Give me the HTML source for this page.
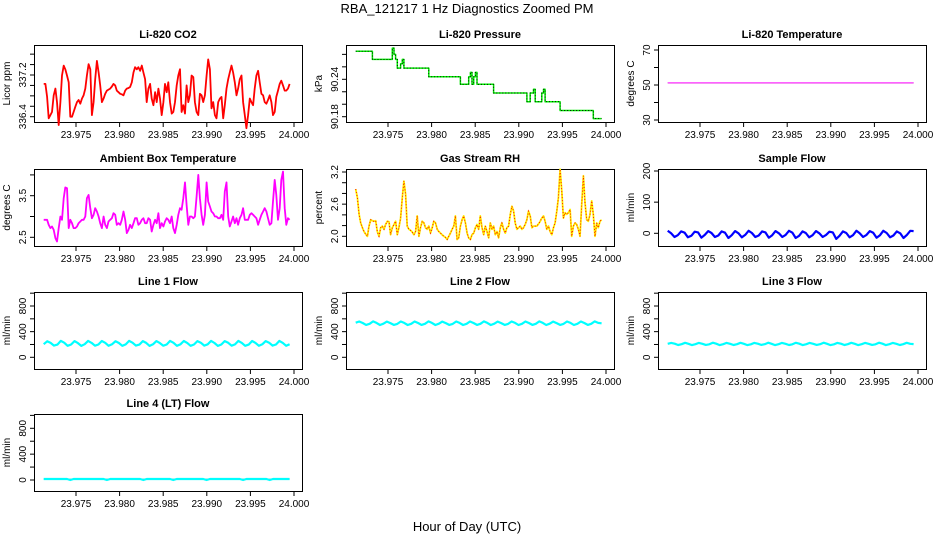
<!DOCTYPE html>
<html><head><meta charset="utf-8">
<style>
html,body{margin:0;padding:0;background:#fff;}
svg{display:block;font-family:"Liberation Sans",Arial,sans-serif;}
</style></head>
<body>
<svg id="chart" width="936" height="540" viewBox="0 0 936 540">
<text x="467" y="13" text-anchor="middle" font-size="13">RBA_121217  1 Hz Diagnostics Zoomed PM</text>
<text x="467" y="531" text-anchor="middle" font-size="13">Hour of Day (UTC)</text>
</svg>
<script>
const tStart = 23.9713, tEnd = 23.9995;
const xTicks = [23.975, 23.980, 23.985, 23.990, 23.995, 24.000];
const xTickLabels = ["23.975","23.980","23.985","23.990","23.995","24.000"];

const co2 = [337.03,337.03,336.78,336.37,336.43,336.49,336.81,336.94,336.68,336.24,336.68,337.19,337.38,337.31,337.19,337.06,336.40,336.40,336.49,336.59,336.68,336.72,336.65,336.75,336.81,336.94,337.19,337.41,337.31,336.43,336.68,337.12,337.47,337.25,337.00,336.68,336.75,336.84,336.90,336.92,336.94,336.98,337.03,337.00,336.90,336.87,336.84,336.83,336.81,336.90,336.94,336.95,336.97,337.06,337.25,337.35,337.31,337.35,337.28,337.38,337.25,337.12,336.68,336.94,337.03,336.75,336.62,336.87,336.68,336.94,336.75,336.43,336.68,337.03,336.87,337.06,336.68,336.46,336.49,336.68,337.00,337.19,337.31,336.49,336.62,336.46,337.00,336.68,336.81,337.19,337.16,336.68,336.49,336.43,336.84,336.81,336.68,336.81,337.19,337.50,337.31,336.56,336.68,336.43,336.37,336.68,336.75,336.78,336.37,336.62,336.94,337.12,337.25,337.38,337.25,337.06,336.81,336.94,337.12,337.19,336.68,336.43,336.18,336.43,336.75,336.68,336.62,336.94,337.19,337.28,337.06,336.84,336.81,336.68,336.65,336.72,336.81,336.68,336.43,336.49,336.78,336.90,337.03,337.09,337.00,336.90,336.90,336.94,337.03];

const pressure = [90.285,90.285,90.285,90.285,90.285,90.285,90.285,90.285,90.285,90.285,
90.272,90.272,90.272,90.272,90.272,90.272,90.272,90.272,90.272,90.272,90.272,90.272,
90.290,90.280,90.272,90.258,90.258,90.265,90.272,90.258,
90.258,90.258,90.258,90.258,90.258,90.258,90.258,90.258,90.258,90.258,90.258,90.258,90.258,90.258,
90.244,90.244,90.244,90.244,90.244,90.244,90.244,90.244,90.244,90.244,90.244,90.244,90.244,90.244,90.244,90.244,90.244,90.244,90.244,
90.232,90.232,90.232,90.232,90.232,90.244,90.251,90.232,90.244,90.251,90.232,
90.232,90.232,90.232,90.232,90.232,90.232,90.232,90.232,90.232,
90.218,90.218,90.218,90.218,90.218,90.218,90.218,90.218,90.218,90.218,90.218,90.218,90.218,90.218,90.218,90.218,90.218,90.218,90.218,90.218,
90.204,90.204,90.218,90.218,90.224,90.204,90.204,90.204,90.204,90.218,90.224,90.204,
90.204,90.204,90.204,90.204,90.204,90.204,90.204,90.204,
90.190,90.190,90.190,90.190,90.190,90.190,90.190,90.190,90.190,90.190,90.190,90.190,90.190,90.190,90.190,90.190,90.190,90.190,90.190,90.190,
90.177,90.177,90.177,90.177,90.177,90.177];

const licorTemp = [51.2,51.2,51.2,51.2,51.2,51.2,51.2,51.2];

const boxTemp = [2.92,2.92,2.92,2.80,2.72,2.76,2.68,2.48,2.40,2.72,3.00,2.92,3.44,3.70,3.68,2.72,2.92,2.84,2.72,2.72,2.76,2.84,2.88,2.92,2.92,3.00,3.44,3.52,3.20,2.96,3.04,3.20,3.12,3.00,2.84,2.72,3.00,2.80,2.72,2.88,2.92,2.96,3.08,3.04,2.80,2.84,2.80,2.92,3.12,2.92,2.60,2.68,2.80,2.72,2.84,2.96,2.96,2.80,2.84,2.92,2.96,2.84,2.84,2.96,2.92,2.64,2.80,2.92,2.84,3.08,2.72,2.84,2.76,2.88,2.96,2.92,2.84,3.00,2.72,2.60,2.80,3.04,3.20,3.16,3.44,3.82,3.28,2.80,3.00,3.00,2.96,3.00,3.48,4.00,3.44,3.04,2.80,3.04,3.82,3.36,3.24,3.12,3.08,3.00,3.00,2.96,2.96,3.04,2.92,3.60,3.82,3.00,2.76,2.88,3.00,2.84,2.96,2.80,2.96,3.04,3.20,2.92,2.92,2.92,3.04,3.08,3.04,3.00,2.96,2.80,2.92,3.04,3.12,3.20,3.12,2.96,2.80,2.84,3.36,3.88,3.52,2.92,3.20,3.88,4.08,3.20,2.80,2.96,2.92];

const gasRH = [2.88,2.72,2.41,2.25,2.16,2.09,2.04,2.00,2.19,2.31,2.29,2.28,2.29,2.09,2.00,2.16,2.19,2.13,2.22,2.28,2.27,2.03,2.16,2.22,2.28,2.03,2.16,2.34,2.72,3.03,2.78,2.19,2.13,2.11,2.08,2.03,2.09,2.38,2.00,2.16,2.28,2.25,2.16,2.13,2.19,2.06,2.16,2.28,2.25,2.13,2.09,2.06,2.03,2.00,1.98,1.94,2.00,2.06,2.13,2.19,2.38,1.94,1.97,2.19,2.31,2.38,2.25,2.06,1.97,1.94,2.03,2.06,2.16,2.22,2.13,2.38,2.16,2.03,2.19,2.09,1.97,2.25,2.13,2.19,2.03,2.09,1.97,2.16,2.25,2.13,2.06,2.16,2.19,2.41,2.56,2.47,2.25,2.13,2.16,2.19,2.13,2.16,2.22,2.31,2.47,2.38,2.16,2.19,2.19,2.19,2.23,2.28,2.34,2.38,2.28,2.13,2.19,2.09,2.03,2.16,2.25,2.47,2.72,3.25,2.84,2.34,2.44,2.41,2.44,2.50,2.00,2.19,2.25,2.22,2.13,2.00,2.59,3.13,2.63,2.31,2.28,2.41,2.66,2.41,2.00,2.25,2.16,2.28,2.31];

const sampleFlow = [8,0,-12,-6,6,2,-13,-8,5,3,-14,-5,7,1,-12,-7,6,2,-15,-6,7,0,-13,-5,8,1,-12,-7,6,3,-14,-6,7,0,-12,-5,8,2,-15,-8,6,1,-13,-6,7,0,-12,-5,5,3,-18,-8,6,1,-13,-6,8,0,-12,-5,7,2,-14,-6,8,1,-13,-7,6,0,-15,-5,8,7];
const line1Flow = [205,250,225,182,198,255,228,180,200,252,222,178,204,256,224,181,199,254,226,179,202,251,223,180,201,255,227,182,198,253,225,178,203,252,222,181,200,256,226,179,201,254,224,180,199,252,227,182,202,255,223,178,200,253,226,181,201,256,224,179,198,254,225,180,203,252,227,182,200,255,224,179,205];
const line2Flow = [540,558,535,505,522,560,536,503,524,557,534,506,521,559,537,504,523,558,535,505,522,560,536,503,524,557,534,506,521,559,537,504,523,558,535,505,522,560,536,503,524,557,534,506,521,559,537,504,523,558,535,505,522,560,536,503,524,557,534,506,521,559,537,504,523,558,535,505,522,560,536,530];
const line3Flow = [210,225,212,192,204,226,210,190,205,224,211,193,203,227,212,191,204,225,210,192,205,226,211,190,203,224,212,193,204,227,210,191,205,225,211,192,203,226,212,190,204,224,210,193,205,227,211,191,203,225,212,192,204,226,210,190,205,224,211,193,203,227,212,191,204,225,210,192,205,226,211,206];
const line4Flow = [15,15,15,15,15,15,15,15,0,15,15,15,15,15,15,15,15,15,15,0,15,15,15,15,15,15,15,15,15,15,0,15,15,15,15,15,15,15,15,0,15,15,15,15,15,15,15,15,15,0,15,15,15,15,15,15,15,15,15,15,0,15,15,15,15,15,15,15,0,15,15,15,15,15,15];

const svg = document.getElementById('chart');
const NS = 'http://www.w3.org/2000/svg';
function mk(tag, attrs){ const e=document.createElementNS(NS,tag); for(const k in attrs) e.setAttribute(k,attrs[k]); svg.appendChild(e); return e; }

const colLeft = [34, 346, 658];
const rowTop = [45, 169, 292, 414];
const boxW = 268, boxH = 77;

function xScale(col, t){ return 76 + 312*col + (t - 23.975) * 8720; }

const panels = [
 {key:'co2', title:'Li-820 CO2', ylab:'Licor ppm', col:0,row:0, ref:[336.4,116.7,337.2,75], ticks:[336.4,336.6,336.8,337.0,337.2,337.4,337.6], labels:[[336.4,'336.4'],[337.2,'337.2']], data:co2, color:'#ff0000', dot:null, w:1.8},
 {key:'pressure', title:'Li-820 Pressure', ylab:'kPa', col:1,row:0, ref:[90.18,116.7,90.24,79.3], ticks:[90.18,90.20,90.22,90.24,90.26,90.28], labels:[[90.18,'90.18'],[90.24,'90.24']], data:pressure, color:'#00ee00', dot:'#000', w:1.5, step:true},
 {key:'licor-temp', title:'Li-820 Temperature', ylab:'degrees C', col:2,row:0, ref:[30,120,70,50], ticks:[30,40,50,60,70], labels:[[30,'30'],[50,'50'],[70,'70']], data:licorTemp, color:'#ff00ff', dot:null, w:1, extraLine:'#555'},
 {key:'box-temp', title:'Ambient Box Temperature', ylab:'degrees C', col:0,row:1, ref:[2.5,237.3,3.5,195.7], ticks:[2.5,3.0,3.5,4.0], labels:[[2.5,'2.5'],[3.5,'3.5']], data:boxTemp, color:'#ff00ff', dot:null, w:1.8},
 {key:'gas-rh', title:'Gas Stream RH', ylab:'percent', col:1,row:1, ref:[2.0,236.3,3.2,172], ticks:[2.0,2.2,2.4,2.6,2.8,3.0,3.2], labels:[[2.0,'2.0'],[2.6,'2.6'],[3.2,'3.2']], data:gasRH, color:'#ffee00', dot:'#ff0000', w:1.8},
 {key:'sample-flow', title:'Sample Flow', ylab:'ml/min', col:2,row:1, ref:[0,233.3,200,171], ticks:[0,100,200], labels:[[0,'0'],[100,'100'],[200,'200']], data:sampleFlow, color:'#0000ff', dot:null, w:2.2},
 {key:'line1-flow', title:'Line 1 Flow', ylab:'ml/min', col:0,row:2, ref:[0,357.3,800,306], ticks:[0,200,400,600,800,1000], labels:[[0,'0'],[400,'400'],[800,'800']], data:line1Flow, color:'#00ffff', dot:null, w:2.2},
 {key:'line2-flow', title:'Line 2 Flow', ylab:'ml/min', col:1,row:2, ref:[0,357.3,800,306], ticks:[0,200,400,600,800,1000], labels:[[0,'0'],[400,'400'],[800,'800']], data:line2Flow, color:'#00ffff', dot:null, w:2.2},
 {key:'line3-flow', title:'Line 3 Flow', ylab:'ml/min', col:2,row:2, ref:[0,357.3,800,306], ticks:[0,200,400,600,800,1000], labels:[[0,'0'],[400,'400'],[800,'800']], data:line3Flow, color:'#00ffff', dot:null, w:2.2},
 {key:'line4-flow', title:'Line 4 (LT) Flow', ylab:'ml/min', col:0,row:3, ref:[0,480,800,428.3], ticks:[0,200,400,600,800,1000], labels:[[0,'0'],[400,'400'],[800,'800']], data:line4Flow, color:'#00ffff', dot:null, w:2.2, extraLine:'#999'}
];

panels.forEach(p=>{
  const L = colLeft[p.col], T = rowTop[p.row];
  const yS = v => p.ref[1] + (v - p.ref[0]) * (p.ref[3]-p.ref[1])/(p.ref[2]-p.ref[0]);
  const g = mk('g',{});
  
  
  const box = mk('rect',{x:L+0.5,y:T+0.5,width:boxW,height:boxH,fill:'none',stroke:'#000','stroke-width':1});
  
  
  const title = mk('text',{x:L+boxW/2,y:T-7,'text-anchor':'middle','font-size':11,'font-weight':'bold'});
  title.textContent = p.title;
  
  
  // x axis
  xTicks.forEach((t,i)=>{
    const x = xScale(p.col,t);
    const tk = mk('line',{x1:x,x2:x,y1:T+boxH+0.5,y2:T+boxH+5,stroke:'#000'});
    
    
    const lb = mk('text',{x:x,y:T+boxH+16,'text-anchor':'middle','font-size':10});
    lb.textContent = xTickLabels[i];
    
    
  });
  // y axis
  p.ticks.forEach(v=>{
    const y = yS(v);
    const tk = mk('line',{x1:L-4,x2:L+0.5,y1:y,y2:y,stroke:'#000'});
    
    
  });
  p.labels.forEach(([v,s])=>{
    const y = yS(v), x = L-8;
    const lb = mk('text',{x:x,y:y,'text-anchor':'middle','font-size':10,transform:`rotate(-90 ${x} ${y})`});
    lb.textContent = s;
    
    
  });
  const yl = L-24, ym = T+boxH/2;
  const ylab = mk('text',{x:yl,y:ym,'text-anchor':'middle','font-size':10,transform:`rotate(-90 ${yl} ${ym})`});
  ylab.textContent = p.ylab;
  
  
  // series
  const n = p.data.length;
  let d = '';
  p.data.forEach((v,i)=>{
    const x = xScale(p.col, tStart + (tEnd-tStart)*i/(n-1));
    const y = yS(v);
    if(i===0) d += `M${x.toFixed(1)},${y.toFixed(1)}`;
    else if(p.step){ d += `H${x.toFixed(1)}V${y.toFixed(1)}`; }
    else d += `L${x.toFixed(1)},${y.toFixed(1)}`;
  });
  if(p.extraLine){
    const bl = mk('line',{x1:xScale(p.col,tStart),x2:xScale(p.col,tEnd),y1:yS(p.data[0]),y2:yS(p.data[0]),stroke:p.extraLine,'stroke-width':0.8});
    
    
  }
  const path = mk('path',{d:d,fill:'none',stroke:p.color,'stroke-width':p.w,'stroke-linejoin':'round'});
  
  
  if(p.dot){
    const dp = mk('path',{d:d,fill:'none',stroke:p.dot,'stroke-width':0.9,'stroke-dasharray':'1 2'});
    
    
  }
});
</script>
</body></html>
